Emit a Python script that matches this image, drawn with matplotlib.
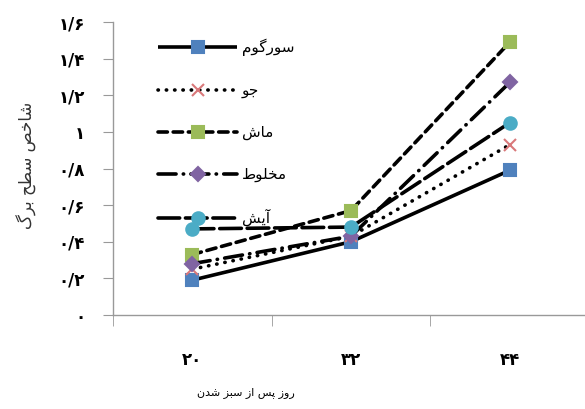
import matplotlib
matplotlib.use("Agg")
import matplotlib.pyplot as plt
import numpy as np

plt.rcParams["font.family"] = ["DejaVu Sans"]

# data (leaf area index vs. days after emergence)
days = ["۲۰", "۳۲", "۴۴"]
sorghum = [0.19, 0.40, 0.79]
barley = [0.25, 0.43, 0.93]
mung = [0.33, 0.57, 1.49]
mixed = [0.28, 0.43, 1.27]
fallow = [0.47, 0.48, 1.05]
names = ["سورگوم", "جو", "ماش", "مخلوط", "آیش"]
yticks = [0, 0.2, 0.4, 0.6, 0.8, 1.0, 1.2, 1.4, 1.6]
ytick_labels = ["۰", "۰/۲", "۰/۴", "۰/۶", "۰/۸", "۱", "۱/۲", "۱/۴", "۱/۶"]
xlabel = "روز پس از سبز شدن"
ylabel = "شاخص سطح برگ"

# minimal Persian shaping (matplotlib has no text shaping): presentation forms
FORMS = {
    "ا": ("\uFE8D", "\uFE8E"), "آ": ("\uFE81", "\uFE82"),
    "د": ("\uFEA9", "\uFEAA"), "ر": ("\uFEAD", "\uFEAE"),
    "ز": ("\uFEAF", "\uFEB0"), "و": ("\uFEED", "\uFEEE"),
    "ب": ("\uFE8F", "\uFE90", "\uFE91", "\uFE92"),
    "پ": ("\uFB56", "\uFB57", "\uFB58", "\uFB59"),
    "ج": ("\uFE9D", "\uFE9E", "\uFE9F", "\uFEA0"),
    "ح": ("\uFEA1", "\uFEA2", "\uFEA3", "\uFEA4"),
    "خ": ("\uFEA5", "\uFEA6", "\uFEA7", "\uFEA8"),
    "س": ("\uFEB1", "\uFEB2", "\uFEB3", "\uFEB4"),
    "ش": ("\uFEB5", "\uFEB6", "\uFEB7", "\uFEB8"),
    "ص": ("\uFEB9", "\uFEBA", "\uFEBB", "\uFEBC"),
    "ط": ("\uFEC1", "\uFEC2", "\uFEC3", "\uFEC4"),
    "گ": ("\uFB92", "\uFB93", "\uFB94", "\uFB95"),
    "ل": ("\uFEDD", "\uFEDE", "\uFEDF", "\uFEE0"),
    "م": ("\uFEE1", "\uFEE2", "\uFEE3", "\uFEE4"),
    "ن": ("\uFEE5", "\uFEE6", "\uFEE7", "\uFEE8"),
    "ی": ("\uFBFC", "\uFBFD", "\uFBFE", "\uFBFF"),
}


def fa(text):
    out = []
    for i, c in enumerate(text):
        f = FORMS.get(c)
        if f is None:
            out.append(c)
            continue
        prev = text[i - 1] if i > 0 else ""
        nxt = text[i + 1] if i + 1 < len(text) else ""
        jp = prev in FORMS and len(FORMS[prev]) == 4
        jn = len(f) == 4 and nxt in FORMS
        out.append(f[3] if jp and jn else f[1] if jp else f[2] if jn else f[0])
    return "".join(reversed(out))


series = [sorghum, barley, mung, mixed, fallow]
styles = [
    dict(linestyle="-", marker="s", color="#4F81BD"),
    dict(linestyle=(0, (0.1, 2.2)), marker="x", color="#D9787A"),
    dict(linestyle=(0, (2.6, 1.6)), marker="s", color="#9BBB59"),
    dict(linestyle=(0, (5, 2, 0.1, 2)), marker="D", color="#8064A2"),
    dict(linestyle=(0, (6, 1.6)), marker="o", color="#4BACC6"),
]

fig = plt.figure(figsize=(5.85, 4.09), dpi=100)
ax = fig.add_axes([0.193, 0.23, 0.814, 0.716])
x = np.arange(len(days))
for vals, name, st in zip(series, names, styles):
    ms = 9 if st["marker"] == "o" else 7 if st["marker"] == "D" else 8
    ax.plot(x, vals, linestyle=st["linestyle"], color="black", lw=2.6,
            dash_capstyle="round", solid_capstyle="butt",
            marker=st["marker"], markersize=ms, markerfacecolor=st["color"],
            markeredgecolor=st["color"], markeredgewidth=1.5, label=fa(name))

ax.set_xlim(-0.5, 2.5)
ax.set_ylim(0, 1.6)
ax.set_yticks(yticks)
ax.set_yticklabels(ytick_labels, fontsize=12, fontweight="bold")
ax.set_xticks(x)
ax.set_xticklabels(days, fontsize=12, fontweight="bold")
ax.set_xticks([-0.5, 0.5, 1.5], minor=True)
ax.tick_params(axis="x", which="major", length=0, pad=26)
ax.tick_params(axis="x", which="minor", length=8, color="#999999", direction="out")
ax.tick_params(axis="y", length=7, color="#999999", pad=13)
for s in ["top", "right"]:
    ax.spines[s].set_visible(False)
for s in ["left", "bottom"]:
    ax.spines[s].set_color("#999999")
    ax.spines[s].set_linewidth(1.0)

ax.set_xlabel(fa(xlabel), fontsize=8)
ax.xaxis.set_label_coords(0.28, -0.245)
ax.set_ylabel(fa(ylabel), fontsize=12, color="#333333")
ax.yaxis.set_label_coords(-0.16, 0.51)

ax.legend(loc="upper left", bbox_to_anchor=(0.27, 0.905),
          bbox_transform=fig.transFigure, frameon=False, fontsize=11,
          handlelength=5.2, handletextpad=0.3, labelspacing=1.75,
          borderpad=0, borderaxespad=0, numpoints=1)

fig.savefig("out.png", dpi=100)
